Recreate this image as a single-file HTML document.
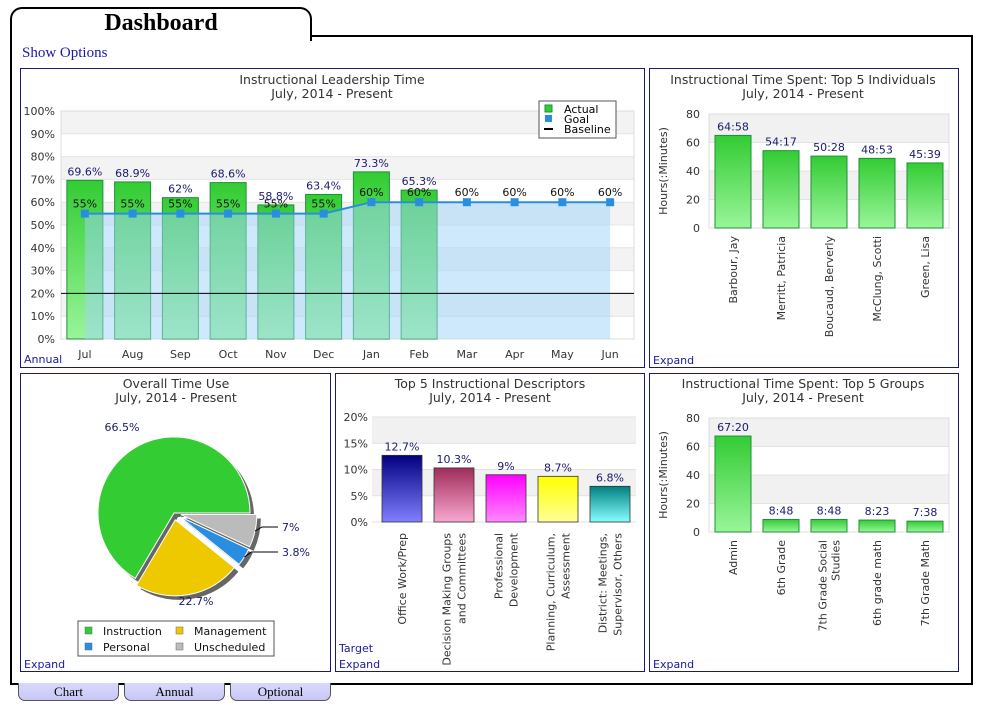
<!DOCTYPE html>
<html><head><meta charset="utf-8"><style>
body{margin:0;width:984px;height:706px;background:#fff;position:relative;overflow:hidden;font-family:"DejaVu Sans","Liberation Sans",sans-serif}
.abs{position:absolute}
.tab{left:10px;top:7px;width:298px;height:32px;border:2px solid #000;border-bottom:none;border-radius:12px 12px 0 0;background:#fff;font-family:"Liberation Serif",serif;font-weight:bold;font-size:24px;text-align:center;line-height:28px;padding-right:0}
.frame{left:10px;top:35px;width:959px;height:648px;border:2px solid #000;border-top:none}
.frametop{left:310px;top:35px;width:661px;height:2px;background:#000}
.show{left:22px;top:45px;font-family:"Liberation Serif",serif;font-size:15px;color:#1a1aa6}
.panel{border:1.5px solid #1a1a6e;background:#fff;box-sizing:border-box}
.btab{top:683px;height:18px;width:101px;box-sizing:border-box;border:1px solid #555;border-top:none;border-radius:0 0 7px 7px;background:linear-gradient(#d8d8ff,#c8c8f4);font-family:"Liberation Serif",serif;font-size:13px;text-align:center;line-height:17px}
</style></head><body>
<div class="abs tab">Dashboard</div>
<div class="abs frame"></div>
<div class="abs frametop"></div>
<div class="abs show">Show Options</div>
<div class="abs panel" style="left:20px;top:68px;width:625px;height:300px"></div>
<div class="abs panel" style="left:649px;top:68px;width:310px;height:300px"></div>
<div class="abs panel" style="left:20px;top:373px;width:311px;height:299px"></div>
<div class="abs panel" style="left:335px;top:373px;width:310px;height:299px"></div>
<div class="abs panel" style="left:649px;top:373px;width:310px;height:299px"></div>
<div class="abs btab" style="left:18px">Chart</div>
<div class="abs btab" style="left:124px">Annual</div>
<div class="abs btab" style="left:230px">Optional</div>
<svg id="s" class="abs" style="left:0;top:0" width="984" height="706" xmlns="http://www.w3.org/2000/svg" font-family="DejaVu Sans, Liberation Sans, sans-serif">
<defs>
<linearGradient id="gG" x1="0" y1="0" x2="0" y2="1"><stop offset="0" stop-color="#33cc33"/><stop offset="1" stop-color="#99f599"/></linearGradient>
<linearGradient id="g0" x1="0" y1="0" x2="0" y2="1"><stop offset="0" stop-color="#000080"/><stop offset="1" stop-color="#8080ff"/></linearGradient>
<linearGradient id="g1" x1="0" y1="0" x2="0" y2="1"><stop offset="0" stop-color="#a02c5a"/><stop offset="1" stop-color="#f8a8d0"/></linearGradient>
<linearGradient id="g2" x1="0" y1="0" x2="0" y2="1"><stop offset="0" stop-color="#ff00ff"/><stop offset="1" stop-color="#ff88ff"/></linearGradient>
<linearGradient id="g3" x1="0" y1="0" x2="0" y2="1"><stop offset="0" stop-color="#ffff00"/><stop offset="1" stop-color="#ffff99"/></linearGradient>
<linearGradient id="g4" x1="0" y1="0" x2="0" y2="1"><stop offset="0" stop-color="#008080"/><stop offset="1" stop-color="#88ffff"/></linearGradient>
</defs>
</svg>
<script>
// ---- data ----
const months=["Jul","Aug","Sep","Oct","Nov","Dec","Jan","Feb","Mar","Apr","May","Jun"];
const actual=[69.6,68.9,62,68.6,58.8,63.4,73.3,65.3];
const goal=[55,55,55,55,55,55,60,60,60,60,60,60];
const baseline=20;
const pctTicks=[0,10,20,30,40,50,60,70,80,90,100];
const people=["Barbour, Jay","Merritt, Patricia","Boucaud, Berverly","McClung, Scotti","Green, Lisa"];
const peopleHours=[64.97,54.28,50.47,48.88,45.65];
const peopleLabels=["64:58","54:17","50:28","48:53","45:39"];
const groups=[["Admin"],["6th Grade"],["7th Grade Social","Studies"],["6th grade math"],["7th Grade Math"]];
const groupHours=[67.33,8.8,8.8,8.38,7.63];
const groupLabels=["67:20","8:48","8:48","8:23","7:38"];
const hourTicks=[0,20,40,60,80];
const descriptors=[["Office Work/Prep"],["Decision Making Groups","and Committees"],["Professional","Development"],["Planning, Curriculum,","Assessment"],["District: Meetings,","Supervisor, Others"]];
const descValues=[12.7,10.3,9,8.7,6.8];
const descTicks=[0,5,10,15,20];
const pieNames=["Instruction","Management","Personal","Unscheduled"];
const pieValues=[66.5,22.7,3.8,7];

const S=document.getElementById('s');const NS="http://www.w3.org/2000/svg";
function el(t,a,p){const e=document.createElementNS(NS,t);for(const k in a)e.setAttribute(k,a[k]);(p||S).appendChild(e);return e;}
function txt(x,y,s,a){const e=el('text',Object.assign({x:x,y:y,'font-size':11,fill:'#333'},a||{}));e.textContent=s;return e;}
function title(cx,y,l1){let t=txt(cx,y,l1,{'text-anchor':'middle','font-size':12.5});

let u=txt(cx,y+14,"July, 2014 - Present",{'text-anchor':'middle','font-size':12.5});
}
function link(x,y,s,name){let t=txt(x,y,s,{fill:'#1a1a9e','font-size':11});}

// ---- Chart 1: Instructional Leadership Time ----
title(332,84,"Instructional Leadership Time");
{const X0=61,X1=634,Y0=339,Y1=111,cw=(X1-X0)/months.length;
const y=v=>Y0-(v/100)*(Y0-Y1);const cx=i=>X0+cw*(i+0.5);
for(let i=0;i<pctTicks.length-1;i+=2){let a=pctTicks[pctTicks.length-1-i],b=pctTicks[pctTicks.length-2-i];el('rect',{x:X0,y:y(a),width:X1-X0,height:y(b)-y(a),fill:'#f3f3f3'});}
pctTicks.forEach(v=>{el('line',{x1:X0,x2:X1,y1:y(v),y2:y(v),stroke:'#e4e4e4'});let t=txt(55,y(v)+4,v+"%",{'text-anchor':'end'});});
el('rect',{x:X0,y:Y1,width:X1-X0,height:Y0-Y1,fill:'none',stroke:'#ddd'});
months.forEach((m,i)=>{let t=txt(cx(i),358,m,{'text-anchor':'middle'});});
actual.forEach((v,i)=>{let r=el('rect',{x:cx(i)-18,y:y(v),width:36,height:Y0-y(v),fill:'url(#gG)',stroke:'#1f8f3a','stroke-width':1});

let t=txt(cx(i),y(v)-5,v+"%",{'text-anchor':'middle',fill:'#1a1a6e'});});
let d="M"+cx(0)+","+Y0;goal.forEach((v,i)=>{d+=" L"+cx(i)+","+y(v);});d+=" L"+cx(goal.length-1)+","+Y0+" Z";
let ar=el('path',{d:d,fill:'rgba(160,212,250,0.5)'});
let bl=el('line',{x1:X0,x2:X1,y1:y(baseline),y2:y(baseline),stroke:'#000','stroke-width':1});
let pts=goal.map((v,i)=>cx(i)+","+y(v)).join(" ");
let gl=el('polyline',{points:pts,fill:'none',stroke:'#2a8ee0','stroke-width':2});
goal.forEach((v,i)=>{let m=el('rect',{x:cx(i)-4,y:y(v)-4,width:8,height:8,fill:'#2a8ee0'});
let t=txt(cx(i),y(v)-6,v+"%",{'text-anchor':'middle',fill:'#111'});});
let lg=el('g',{});
el('rect',{x:539,y:101,width:77,height:37,fill:'#fff',stroke:'#555'},lg);
el('rect',{x:545,y:105,width:7,height:7,fill:'#3c3',stroke:'#1f8f3a'},lg);txt(564,113,"Actual",{fill:'#000'},lg).setAttribute('font-size',11);
el('rect',{x:545,y:115,width:7,height:7,fill:'#2a8ee0'},lg);
el('line',{x1:544,x2:553,y1:129,y2:129,stroke:'#000','stroke-width':2},lg);
let l1=txt(564,123,"Goal",{fill:'#000'});lg.appendChild(l1);let l2=txt(564,133,"Baseline",{fill:'#000'});lg.appendChild(l2);
link(24,363,"Annual","annual-link");}

// ---- Hours bar chart helper ----
function hoursChart(top,names,vals,labels,ttl,key){
title(803,top+16,ttl);
const X0=709,X1=949,Y0=top+160,Y1=top+46,cw=(X1-X0)/names.length;
const y=v=>Y0-(v/80)*(Y0-Y1);const cx=i=>X0+cw*(i+0.5);
[[60,80],[20,40]].forEach(b=>el('rect',{x:X0,y:y(b[1]),width:X1-X0,height:y(b[0])-y(b[1]),fill:'#f1f1f1'}));
hourTicks.forEach(v=>{el('line',{x1:X0,x2:X1,y1:y(v),y2:y(v),stroke:'#e2e2e2'});let t=txt(700,y(v)+4,v,{'text-anchor':'end'});});
el('rect',{x:X0,y:Y1,width:X1-X0,height:Y0-Y1,fill:'none',stroke:'#ddd'});
let at=txt(0,0,"Hours(:Minutes)",{'text-anchor':'middle',transform:`translate(667,${(Y0+Y1)/2}) rotate(-90)`});
vals.forEach((v,i)=>{let r=el('rect',{x:cx(i)-18,y:y(v),width:36,height:Y0-y(v),fill:'url(#gG)',stroke:'#1f8f3a'});
let t=txt(cx(i),y(v)-5,labels[i],{'text-anchor':'middle',fill:'#1a1a6e'});
const lines=Array.isArray(names[i])?names[i]:[names[i]];
lines.forEach((ln,j)=>{let o=(j-(lines.length-1)/2)*13;let t2=txt(0,0,ln,{'text-anchor':'end',transform:`translate(${cx(i)+4+o},${Y0+8}) rotate(-90)`});});});
link(653,top+296,"Expand","expand-link");}
hoursChart(68,people,peopleHours,peopleLabels,"Instructional Time Spent: Top 5 Individuals","individual");
hoursChart(372,groups,groupHours,groupLabels,"Instructional Time Spent: Top 5 Groups","group");

// ---- Descriptors chart ----
title(490,388,"Top 5 Instructional Descriptors");
{const X0=376,X1=636,Y0=522,Y1=417,cw=(X1-X0)/descriptors.length;
const y=v=>Y0-(v/20)*(Y0-Y1);const cx=i=>X0+cw*(i+0.5);
[[15,20],[5,10]].forEach(b=>el('rect',{x:X0-4,y:y(b[1]),width:X1-X0+4,height:y(b[0])-y(b[1]),fill:'#f1f1f1'}));
descTicks.forEach(v=>{el('line',{x1:X0-4,x2:X1,y1:y(v),y2:y(v),stroke:'#e2e2e2'});let t=txt(368,y(v)+4,v+"%",{'text-anchor':'end'});});
descValues.forEach((v,i)=>{let r=el('rect',{x:cx(i)-20,y:y(v),width:40,height:Y0-y(v),fill:'url(#g'+i+')',stroke:'#333','stroke-width':0.8});
let t=txt(cx(i),y(v)-5,v+"%",{'text-anchor':'middle',fill:'#1a1a6e'});
const lines=descriptors[i];lines.forEach((ln,j)=>{let o=(j-(lines.length-1)/2)*15;let t2=txt(0,0,ln,{'text-anchor':'end',transform:`translate(${cx(i)+4+o},533) rotate(-90)`});});});
link(339,652,"Target","target-link");link(339,668,"Expand","expand-link");}

// ---- Pie ----
title(176,388,"Overall Time Use");
{const C=[174,513],R=76;const cols=['#33cc33','#eec900','#2a8ee0','#bbbbbb'];
const expl=[0,7,7,7];
const total=pieValues.reduce((a,b)=>a+b,0);
let starts={};starts[3]=0;starts[2]=pieValues[3]/total*360;starts[1]=starts[2]+pieValues[2]/total*360;
function arc(cx,cy,r,a0,a1){const p=d=>[cx+r*Math.cos(d*Math.PI/180),cy+r*Math.sin(d*Math.PI/180)];const s=p(a0),e=p(a1);const large=(a1-a0)>180?1:0;return `M${cx},${cy} L${s[0]},${s[1]} A${r},${r} 0 ${large} 1 ${e[0]},${e[1]} Z`;}
const slices=pieNames.map((n,i)=>{let a0,a1;if(i===0){a0=starts[1]+pieValues[1]/total*360;a1=360;}else{a0=starts[i];a1=a0+pieValues[i]/total*360;}return [a0,a1];});
slices.forEach((s,i)=>{const mid=(s[0]+s[1])/2*Math.PI/180;const dx=expl[i]*Math.cos(mid),dy=expl[i]*Math.sin(mid);
el('path',{d:arc(C[0]+dx+4,C[1]+dy+4,R,s[0],s[1]),fill:'#666'});});
const pos=[[122,431],[196,605],[282,556],[282,531]];
slices.forEach((s,i)=>{const mid=(s[0]+s[1])/2*Math.PI/180;const dx=expl[i]*Math.cos(mid),dy=expl[i]*Math.sin(mid);
let p=el('path',{d:arc(C[0]+dx,C[1]+dy,R,s[0],s[1]),fill:cols[i],stroke:'#fff','stroke-width':1});
let t=txt(pos[i][0],pos[i][1],pieValues[i]+"%",{'text-anchor':i>1?'start':'middle',fill:'#1a1a6e'});
if(i>1){const ex=C[0]+dx+R*Math.cos(mid),ey=C[1]+dy+R*Math.sin(mid);el('polyline',{points:`${ex},${ey} ${ex+7},${pos[i][1]-4} ${pos[i][0]-4},${pos[i][1]-4}`,fill:'none',stroke:'#000'});}});
let lg=el('g',{});
el('rect',{x:78,y:621,width:196,height:35,fill:'#fff',stroke:'#555'},lg);
const lp=[[85,631],[176,631],[85,647],[176,647]];const li=[0,1,2,3];const lc=['#33cc33','#eec900','#2a8ee0','#bbbbbb'];const ln=["Instruction","Management","Personal","Unscheduled"];
li.forEach(k=>{el('rect',{x:lp[k][0],y:lp[k][1]-4,width:7,height:7,fill:lc[k],stroke:'#666','stroke-width':0.5},lg);let t=txt(lp[k][0]+18,lp[k][1]+4,ln[k],{fill:'#111'});lg.appendChild(t);});
link(24,668,"Expand","expand-link");}
</script>
</body></html>
